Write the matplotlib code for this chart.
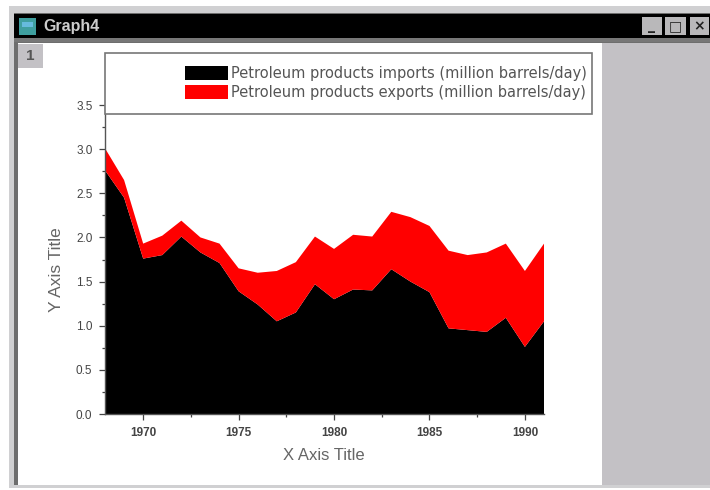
import matplotlib
matplotlib.use("Agg")
import matplotlib.pyplot as plt
from matplotlib.patches import Rectangle
from matplotlib.ticker import MultipleLocator

years = list(range(1968, 1992))
imports = [2.76, 2.45, 1.76, 1.80, 2.01, 1.83, 1.71, 1.39, 1.24, 1.05, 1.15, 1.47,
           1.30, 1.41, 1.40, 1.64, 1.50, 1.38, 0.97, 0.95, 0.93, 1.09, 0.76, 1.05]
exports = [0.25, 0.20, 0.17, 0.22, 0.18, 0.17, 0.22, 0.26, 0.36, 0.57, 0.57, 0.54,
           0.57, 0.62, 0.61, 0.65, 0.73, 0.75, 0.88, 0.85, 0.90, 0.84, 0.86, 0.88]
series_labels = ["Petroleum products imports (million barrels/day)",
                 "Petroleum products exports (million barrels/day)"]
x_ticks = [1970, 1975, 1980, 1985, 1990]
y_ticks = [0.0, 0.5, 1.0, 1.5, 2.0, 2.5, 3.0, 3.5]

W, H = 710, 490
plt.rcParams["font.family"] = ["Liberation Sans", "DejaVu Sans"]
fig = plt.figure(figsize=(W / 100, H / 100), dpi=100, facecolor="white")

# window chrome, in pixel coordinates
bg = fig.add_axes([0, 0, 1, 1], zorder=0)
bg.set_xlim(0, W); bg.set_ylim(H, 0); bg.axis("off")
def box(x0, y0, x1, y1, fc, ec="none", lw=0, z=1):
    bg.add_patch(Rectangle((x0, y0), x1 - x0, y1 - y0, fc=fc, ec=ec, lw=lw, zorder=z))
box(9, 6, 710, 488, "#d0d0d2")
box(14, 13, 710, 485, "#6e6e6e")
box(18, 43, 602, 485, "white")
box(602, 43, 710, 485, "#c3c1c5")
box(14, 14, 710, 38, "black")
box(14, 38, 710, 42, "#777777")
box(18, 44, 43, 68, "#c3c1c5")
bg.text(30, 56, "1", fontsize=11, fontweight="bold", color="#555555", ha="center", va="center")
bg.text(43, 27, "Graph4", fontsize=11.5, fontweight="bold", color="#cccccc", ha="left", va="center")
box(19, 18, 36, 35, "#3f9f9f", z=2)
box(22, 22, 33, 27, "#66bbdd", z=3)
for bx0, bx1, glyph in [(642, 662, "_"), (665, 686, "□"), (690, 709, "×")]:
    box(bx0, 17, bx1, 35, "#b9b8ba", z=2)
    bg.text((bx0 + bx1) / 2, 26, glyph, fontsize=10, fontweight="bold", color="#222222",
            ha="center", va="center", family="DejaVu Sans", zorder=3)

# plot
L, R, T, B = 105, 544, 105, 414
ax = fig.add_axes([L / W, 1 - B / H, (R - L) / W, (B - T) / H], zorder=1)
ax.patch.set_alpha(0)
polys = ax.stackplot(years, imports, exports, colors=["black", "#ff0000"],
                     labels=series_labels, linewidth=0)
ax.set_xlim(1968, 1991)
ax.set_ylim(0, 3.5)
ax.set_xticks(x_ticks)
ax.xaxis.set_minor_locator(MultipleLocator(2.5))
ax.set_yticks(y_ticks)
ax.set_yticklabels([f"{v:.1f}" for v in y_ticks])
ax.yaxis.set_minor_locator(MultipleLocator(0.25))
for s in ("top", "right"):
    ax.spines[s].set_visible(False)
for s in ("left", "bottom"):
    ax.spines[s].set_color("#555555")
    ax.spines[s].set_linewidth(1.0)
ax.tick_params(which="major", length=4, width=0.9, color="#444444", labelcolor="#444444",
               labelsize=8.5, pad=5)
ax.tick_params(which="minor", length=2, width=0.9, color="#444444")
for t in ax.get_xticklabels():
    t.set_fontweight("bold")
fig.text(324 / W, 1 - 456 / H, "X Axis Title", fontsize=12, color="#666666",
         ha="center", va="center")
fig.text(56 / W, 1 - 270 / H, "Y Axis Title", fontsize=12.5, color="#666666",
         rotation=90, ha="center", va="center")

# legend panel
top = fig.add_axes([0, 0, 1, 1], zorder=2)
top.set_xlim(0, W); top.set_ylim(H, 0); top.axis("off")
top.add_patch(Rectangle((105, 53), 487, 61, fc="white", ec="#777777", lw=1.2))
fs = 10.5
fs_px = fs * 100 / 72
leg = top.legend(polys, series_labels, loc="center right", frameon=False,
                 bbox_to_anchor=(587 / W, 1 - 83 / H), bbox_transform=fig.transFigure,
                 labelcolor="#555555", prop={"family": "DejaVu Sans", "size": fs},
                 handlelength=43 / fs_px, handleheight=16 / fs_px, handletextpad=0.2,
                 labelspacing=0.28, borderpad=0, borderaxespad=0)

fig.savefig("out.png", dpi=100)
